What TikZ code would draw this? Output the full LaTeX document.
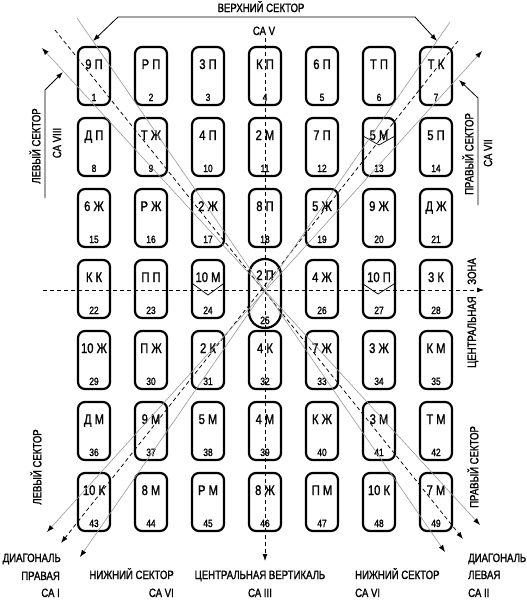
\documentclass[tikz,border=0pt]{standalone}
\usepackage{fontspec}
\setmainfont[FakeStretch=0.8, FakeBold=1.3]{Liberation Sans}
\usetikzlibrary{arrows.meta}
\begin{document}
\begin{tikzpicture}[x=1pt,y=-1pt,
  cell/.style={draw, line width=2.2pt, rounded corners=7pt, minimum width=32pt, minimum height=58pt, inner sep=0pt},
  capsule/.style={draw, line width=2.2pt, rounded corners=16pt, minimum width=32pt, minimum height=69pt, inner sep=0pt},
  lab/.style={font=\fontsize{14}{14}\selectfont, anchor=base, inner sep=0pt},
  num/.style={font=\fontsize{10.5}{11}\selectfont, anchor=base, inner sep=0pt},
  side/.style={font=\fontsize{12}{12}\selectfont, inner sep=0pt},
  dline/.style={line width=0.75pt, dash pattern=on 4pt off 3pt},
  gline/.style={black!40, line width=0.6pt},
  thinline/.style={line width=0.8pt},
  tipend/.style={-{Latex[length=7pt,width=5pt,black]}},
  tipboth/.style={{Latex[length=7pt,width=5pt,black]}-{Latex[length=7pt,width=5pt,black]}},
  chev/.style={line width=0.7pt}
]
\useasboundingbox (0,0) rectangle (527,600);

% ---- boxes ----
\foreach \row [count=\r] in {%
 {9 П,Р П,3 П,К П,6 П,Т П,Т К},%
 {Д П,Т Ж,4 П,2 М,7 П,5 М,5 П},%
 {6 Ж,Р Ж,2 Ж,8 П,5 Ж,9 Ж,Д Ж},%
 {К К,П П,10 М,2 П,4 Ж,10 П,3 К},%
 {10 Ж,П Ж,2 К,4 К,7 Ж,3 Ж,К М},%
 {Д М,9 М,5 М,4 М,К Ж,3 М,Т М},%
 {10 К,8 М,Р М,8 Ж,П М,10 К,7 М}} {
  \foreach \t [count=\c] in \row {
    \pgfmathtruncatemacro\n{(\r-1)*7+\c}
    \pgfmathsetmacro\cx{94+57*(\c-1)}
    \pgfmathsetmacro\cy{76+71*(\r-1)}
    \ifnum\n=25\relax
      \node[capsule] (b\n) at (\cx,293.5) {};
      \node[lab] (l\n) at (\cx,280) {\t};
      \node[num] (n\n) at (\cx,324) {\n};
    \else
      \node[cell] (b\n) at (\cx,\cy) {};
      \node[lab] (l\n) at (\cx,\cy-7) {\t};
      \node[num] (n\n) at (\cx,\cy+25) {\n};
    \fi
  }
}

% ---- chevrons ----
\coordinate (v13a) at (363,136); \coordinate (v13b) at (379,145); \coordinate (v13c) at (395,136);
\coordinate (v24a) at (193,284); \coordinate (v24b) at (208,295); \coordinate (v24c) at (223,284);
\coordinate (v27a) at (363,284); \coordinate (v27b) at (378,294); \coordinate (v27c) at (394,284);
\draw[chev] (v13a) -- (v13b) -- (v13c);
\draw[chev] (v24a) -- (v24b) -- (v24c);
\draw[chev] (v27a) -- (v27b) -- (v27c);

% ---- central axes ----
\coordinate (hs) at (43,290); \coordinate (he) at (484,290);
\coordinate (vs) at (265,38); \coordinate (ve) at (265,561);
\draw[dline, tipend] (hs) -- (he);
\draw[dline, tipend] (vs) -- (ve);

% ---- diagonal top-left to bottom-right ----
\coordinate (d1s) at (55,30);  \coordinate (d1e) at (463,539);
\coordinate (a1s) at (77,18);  \coordinate (a1e) at (445,552);
\coordinate (b1s) at (42,48);  \coordinate (b1e) at (480,525);
\draw[dline, tipend] (d1s) -- (d1e);
\draw[gline, tipend] (a1s) -- (a1e);
\draw[gline, tipboth] (b1s) -- (b1e);

% ---- diagonal bottom-left to top-right ----
\coordinate (d2s) at (458,41); \coordinate (d2e) at (61,543);
\coordinate (c2s) at (450,22); \coordinate (c2e) at (80,557);
\coordinate (e2s) at (482,51); \coordinate (e2e) at (47,532);
\draw[dline, tipend] (d2s) -- (d2e);
\draw[gline, tipend] (c2s) -- (c2e);
\draw[gline, tipboth] (e2s) -- (e2e);

% ---- top bracket ----
\coordinate (tl) at (93,41); \coordinate (tlk) at (118,17);
\coordinate (trk) at (415,17); \coordinate (tr) at (437,41);
\draw[thinline, tipboth] (tl) -- (tlk) -- (trk) -- (tr);

% ---- side bent arrows ----
\coordinate (ls) at (45,198); \coordinate (lk) at (45,90); \coordinate (le) at (63,72);
\draw[thinline, tipend] (ls) -- (lk) -- (le);
\coordinate (rs) at (478,205); \coordinate (rk) at (478,98); \coordinate (re) at (459,80);
\draw[thinline, tipend] (rs) -- (rk) -- (re);

% ---- texts ----
\node[side, anchor=base] (tt1) at (261,12) {ВЕРХНИЙ СЕКТОР};
\node[side, anchor=base] (tt2) at (264,35) {СА V};

\node[side, rotate=90] (ul1) at (35,146) {ЛЕВЫЙ СЕКТОР};
\node[side, rotate=90] (ul2) at (57,143) {СА VIII};
\node[side, rotate=90] (ur1) at (468,154) {ПРАВЫЙ СЕКТОР};
\node[side, rotate=90] (ur2) at (488,153) {СА VII};
\node[side, rotate=90] (cz) at (473,313) {ЦЕНТРАЛЬНАЯ\hspace{9pt} ЗОНА};
\node[side, rotate=90] (ll1) at (36,467) {ЛЕВЫЙ СЕКТОР};
\node[side, rotate=90] (lr1) at (473,467) {ПРАВЫЙ СЕКТОР};

\node[side, anchor=base east] (bl1) at (61,562) {ДИАГОНАЛЬ};
\node[side, anchor=base east] (bl2) at (60,580) {ПРАВАЯ};
\node[side, anchor=base east] (bl3) at (60,597) {СА I};

\node[side, anchor=base east] (bn1) at (174,579) {НИЖНИЙ СЕКТОР};
\node[side, anchor=base east] (bn2) at (174,597) {СА VI};

\node[side, anchor=base] (bc1) at (260,579) {ЦЕНТРАЛЬНАЯ ВЕРТИКАЛЬ};
\node[side, anchor=base] (bc2) at (260,597) {СА III};

\node[side, anchor=base west] (br1) at (355,579) {НИЖНИЙ СЕКТОР};
\node[side, anchor=base west] (br2) at (355,597) {СА VI};

\node[side, anchor=base west] (bd1) at (468,562) {ДИАГОНАЛЬ};
\node[side, anchor=base west] (bd2) at (468,579) {ЛЕВАЯ};
\node[side, anchor=base west] (bd3) at (468,597) {СА II};
\end{tikzpicture}
\end{document}
